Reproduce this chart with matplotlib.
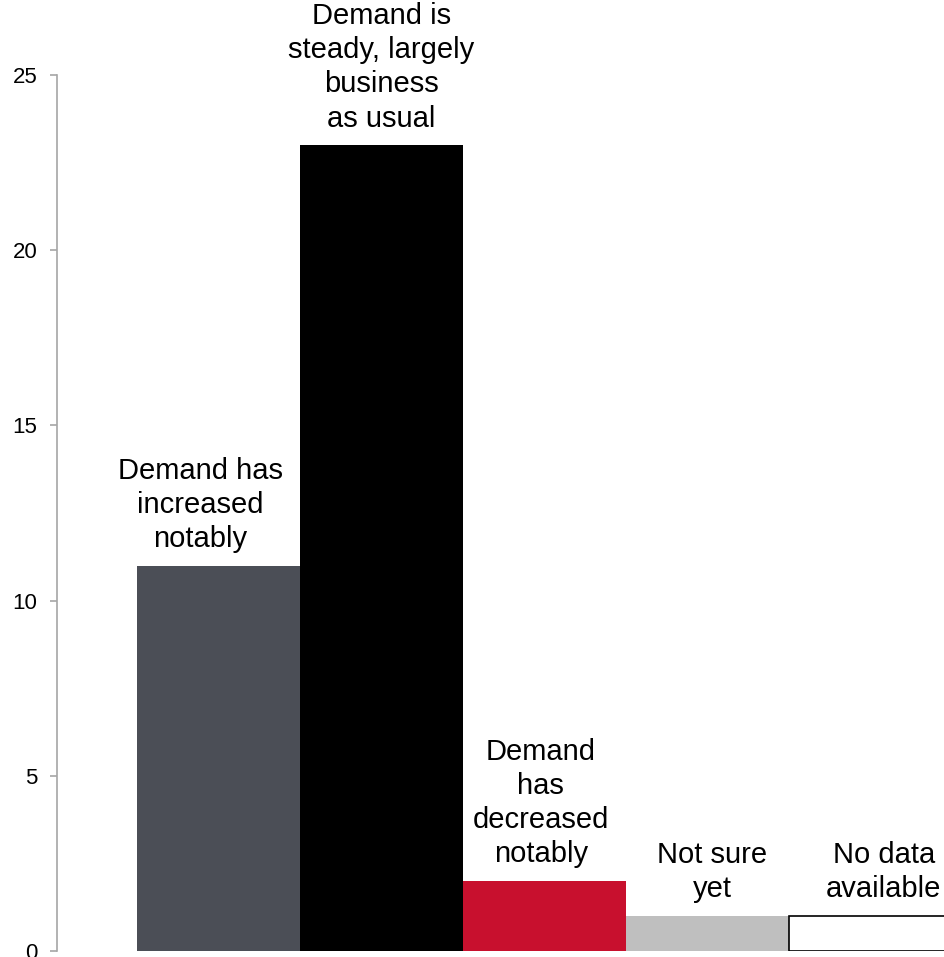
import matplotlib

matplotlib.use('agg')
import matplotlib.pyplot as plt

plt.rcParams['font.family'] = ['Liberation Sans', 'DejaVu Sans']

labels = ['Demand has\nincreased\nnotably',
          'Demand is\nsteady, largely\nbusiness\nas usual',
          'Demand\nhas\ndecreased\nnotably',
          'Not sure\nyet',
          'No data\navailable']
values = [11, 23, 2, 1, 1]
colors = ['#4b4e56', '#000000', '#c8102e', '#bfbfbf', '#ffffff']
edges = ['none', 'none', 'none', 'none', '#000000']
# small sideways nudge of each label, in pixels
nudge = [-18, 0, -3.5, 5, 13.5]

fig = plt.figure(figsize=(9.45, 9.57), dpi=100)
# axes runs past the right edge of the figure, so the last bar is cut off
ax = fig.add_axes([57 / 945, 6 / 957, 911 / 945, 876 / 957])

x = list(range(len(values)))
ax.bar(x, values, width=1.0, color=colors, edgecolor=edges, linewidth=1.2)

for xi, v, lab, dx in zip(x, values, labels, nudge):
    ax.annotate(lab, (xi, v), xytext=(dx * 0.72, 9), textcoords='offset points',
                ha='center', va='bottom', fontsize=21, linespacing=1.28,
                multialignment='center')

ax.set_xlim(-0.991, 4.6)
ax.set_ylim(0, 25)
ax.set_yticks([0, 5, 10, 15, 20, 25])
ax.set_xticks([])

for s in ['top', 'right', 'bottom']:
    ax.spines[s].set_visible(False)
ax.spines['left'].set_color('#a6a6a6')
ax.spines['left'].set_linewidth(1.2)
ax.tick_params(axis='y', length=5, width=1.2, color='#a6a6a6', pad=9,
               labelsize=16, labelcolor='#000000')

fig.savefig('out.png', dpi=100)
